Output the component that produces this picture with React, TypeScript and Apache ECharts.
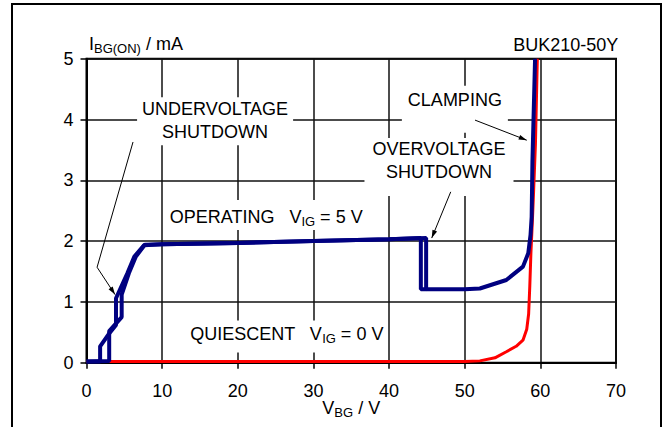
import React, { useEffect, useRef } from "react";
import * as echarts from "echarts";

const FONT = '"Liberation Sans", Arial, Helvetica, sans-serif';

// Axis ticks
const xMin = 0, xMax = 70, xStep = 10;
const yMin = 0, yMax = 5, yStep = 1;

// Operating (V_IG = 5 V) – rising-voltage branch
const opUpX = [0, 3.0, 3.0, 4.65, 4.65, 5.6, 6.5, 7.7, 10, 20, 30, 40, 44.9, 44.9, 50, 52, 55.5, 57.7, 58.4, 58.7, 58.85, 58.95, 59.3];
const opUpY = [0.02, 0.03, 0.52, 0.75, 1.12, 1.47, 1.74, 1.94, 1.95, 1.97, 2.0, 2.03, 2.05, 1.21, 1.21, 1.22, 1.36, 1.58, 1.8, 2.1, 2.4, 3.3, 5.0];
// Operating – falling-voltage branch
const opDownX = [44.9, 44.2, 44.2, 40, 30, 20, 10, 7.6, 6.3, 5.4, 3.9, 3.9, 3.0, 1.8, 1.8, 0];
const opDownY = [1.21, 1.21, 2.05, 2.03, 2.0, 1.97, 1.95, 1.93, 1.74, 1.47, 1.06, 0.62, 0.48, 0.27, 0.02, 0.02];
// Quiescent (V_IG = 0 V)
const qX = [0, 10, 20, 30, 40, 50, 52, 54, 55.5, 56.8, 57.7, 58.2, 58.45, 58.6, 58.75, 58.95, 59.1, 59.35, 59.6];
const qY = [0.02, 0.02, 0.02, 0.02, 0.02, 0.02, 0.03, 0.08, 0.18, 0.27, 0.37, 0.55, 0.8, 1.25, 1.8, 2.35, 2.8, 3.6, 5.0];

const pairs = (xs: number[], ys: number[]) => xs.map((x, i) => [x, ys[i]]);

const FS = 18;
const main = { fontSize: FS, fontFamily: FONT, color: "#000", lineHeight: 22 };
const sub = { fontSize: 13, fontFamily: FONT, color: "#000", padding: [9, 0, 0, 0], lineHeight: 13 };

export default function App() {
  const ref = useRef<HTMLDivElement>(null);
  useEffect(() => {
    const el = ref.current!;
    const chart = echarts.init(el, null, { renderer: "svg" });
    const axisCommon = {
      type: "value",
      axisLine: { show: true, lineStyle: { color: "#000", width: 2 } },
      axisTick: { show: true, inside: false, length: 6, lineStyle: { color: "#000", width: 1.5 } },
      splitLine: { show: true, lineStyle: { color: "#111", width: 1.5 } },
    };
    chart.setOption({
      animation: false,
      backgroundColor: "#fff",
      grid: {
        left: 86.5, right: 49, top: 58.7, bottom: 64.3,
        containLabel: false, outerBoundsMode: "none",
        show: true, borderColor: "#000", borderWidth: 2,
      },
      xAxis: {
        ...axisCommon,
        min: xMin, max: xMax, interval: xStep,
        axisLabel: { margin: 19, fontSize: FS, fontFamily: FONT, color: "#000" },
      },
      yAxis: {
        ...axisCommon,
        min: yMin, max: yMax, interval: yStep,
        axisLabel: { margin: 13, fontSize: FS, fontFamily: FONT, color: "#000" },
      },
      series: [
        { type: "line", data: pairs(qX, qY), symbol: "none", lineStyle: { color: "#ff0000", width: 3 }, z: 3 },
        { type: "line", data: pairs(opDownX, opDownY), symbol: "none", lineStyle: { color: "#000080", width: 4 }, z: 4 },
        { type: "line", data: pairs(opUpX, opUpY), symbol: "none", lineStyle: { color: "#000080", width: 4 }, z: 4 },
      ],
    });

    const px = (p: number[]) => chart.convertToPixel({ gridIndex: 0 }, p) as number[];

    const arrowHead = (a: number[], b: number[]) => {
      const dx = b[0] - a[0], dy = b[1] - a[1];
      const len = Math.hypot(dx, dy);
      const ux = dx / len, uy = dy / len;
      const L = 8, W = 2.5;
      const bx = b[0] - ux * L, by = b[1] - uy * L;
      return {
        type: "polygon",
        shape: { points: [b, [bx - uy * W, by + ux * W], [bx + uy * W, by - ux * W]] },
        style: { fill: "#000" },
        z: 20,
      };
    };
    const pline = (pts: number[][]) => ({
      type: "polyline",
      shape: { points: pts },
      style: { stroke: "#000", lineWidth: 1, fill: "none" },
      z: 20,
    });
    const label = (p: number[], text: string, align: string, padding: number[], extra: any = {}) => {
      const q = px(p);
      return {
        type: "text",
        x: q[0],
        y: q[1],
        z: 15,
        style: {
          text,
          align,
          verticalAlign: "middle",
          font: `${FS}px ${FONT}`,
          fill: "#000",
          lineHeight: 23,
          backgroundColor: "#fff",
          padding,
          rich: { a: main, s: sub },
          ...extra,
        },
      };
    };

    const uvA = px([6.15, 3.63]), uvB = px([1.4, 1.57]), uvC = px([3.77, 1.12]);
    const ovA = px([48.15, 2.81]), ovB = px([45.64, 2.05]);
    const clA = px([51.36, 3.99]), clB = px([58.2, 3.66]);
    const xMid = px([(xMin + xMax) / 2, yMin]);

    chart.setOption({
      graphic: [
        {
          type: "rect",
          shape: { x: 12, y: 4, width: 649, height: 430 },
          style: { fill: "none", stroke: "#000", lineWidth: 2 },
          z: 1,
        },
        label([17.0, 3.97], "UNDERVOLTAGE\nSHUTDOWN", "center", [0, 5, 2, 5]),
        label([11.0, 2.43], "{a|OPERATING   V}{s|IG}{a| = 5 V}", "left", [6, 4, 2, 0]),
        label([13.7, 0.43], "{a|QUIESCENT   V}{s|IG}{a| = 0 V}", "left", [2, 4, 8, 0]),
        label([46.6, 3.22], "OVERVOLTAGE\nSHUTDOWN", "center", [0, 8, 12, 8]),
        label([48.7, 4.17], "CLAMPING", "center", [3, 6, 21, 6]),
        label([70.3, 5.22], "BUK210-50Y", "right", [0, 0, 0, 0], { backgroundColor: "transparent" }),
        {
          type: "text",
          x: 89,
          y: 44,
          z: 15,
          style: {
            text: "{a|I}{s|BG(ON)}{a| / mA}",
            align: "left",
            verticalAlign: "middle",
            rich: { a: main, s: sub },
          },
        },
        {
          type: "text",
          x: xMid[0],
          y: 408,
          z: 15,
          style: {
            text: "{a|V}{s|BG}{a| / V}",
            align: "center",
            verticalAlign: "middle",
            rich: { a: main, s: sub },
          },
        },
        pline([uvA, uvB, uvC]),
        arrowHead(uvB, uvC),
        pline([ovA, ovB]),
        arrowHead(ovA, ovB),
        pline([clA, clB]),
        arrowHead(clA, clB),
      ],
    });
    return () => chart.dispose();
  }, []);
  return <div ref={ref} style={{ position: "absolute", left: 0, top: 0, width: 665, height: 427 }} />;
}
